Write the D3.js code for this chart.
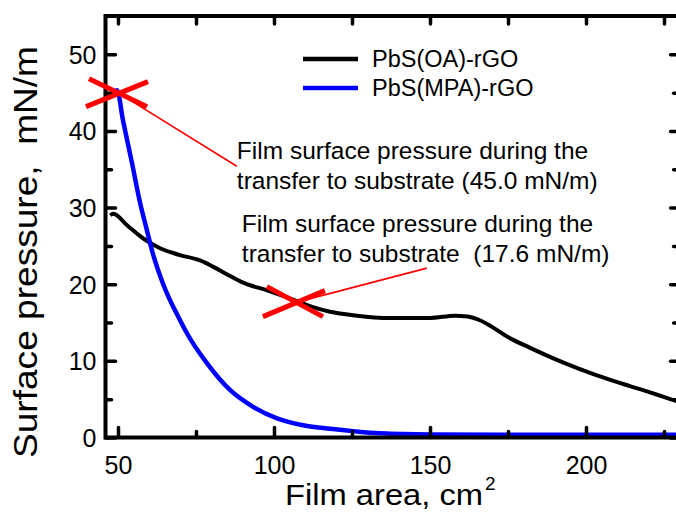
<!DOCTYPE html>
<html lang="en">
<head>
    <meta charset="UTF-8">
    <script src="https://cdn.jsdelivr.net/npm/d3@7"></script>
    <style>
        body{ margin:0; background:#fff; }
        text{ font-family:"Liberation Sans", Arial, sans-serif; fill:#000; }
    </style>
    <title>Isotherms</title>
</head>
<body>
    <svg width="676" height="512"></svg>
    <script>
        // data: film area (cm2) vs surface pressure (mN/m)
        var oaArea  = [47.5, 48.5, 52.9, 58.0, 63.5, 69.9, 76.3, 80.4, 84.9, 90.1, 97.8, 106.1, 112.5, 118.0, 126.6, 134.9, 150.0, 158.0, 162.0, 166.0, 170.0, 175.0, 182.1, 192.6, 203.5, 214.1, 220.5, 230.0];
        var oaPress = [29.0, 29.2, 27.7, 26.0, 24.7, 23.8, 23.1, 22.3, 21.3, 20.2, 19.2, 18.0, 17.0, 16.4, 15.9, 15.6, 15.6, 15.9, 15.8, 15.3, 14.4, 13.1, 11.7, 9.8, 8.1, 6.7, 5.9, 4.6];
        var mpaArea  = [46.5, 48.1, 49.7, 51.6, 54.5, 57.1, 59.3, 60.9, 64.4, 69.9, 72.1, 78.5, 85.9, 93.3, 101.0, 109.3, 118.9, 126.0, 134.0, 150.0, 190.0, 230.0];
        var mpaPress = [44.4, 45.0, 45.3, 41.4, 35.8, 30.6, 27.0, 24.4, 20.1, 15.3, 13.6, 9.7, 6.2, 4.0, 2.5, 1.6, 1.1, 0.8, 0.55, 0.4, 0.35, 0.35];
        var seriesNames = ["PbS(OA)-rGO", "PbS(MPA)-rGO"];
        var seriesColors = ["#000000", "#0000ff"];
        var xMajor = [50, 100, 150, 200];
        var xMinor = [75, 125, 175, 225];
        var yMajor = [0, 10, 20, 30, 40, 50];
        var yMinor = [5, 15, 25, 35, 45];
        // transfer points marked with red crosses
        var markArea  = [50.0, 106.7];
        var markPress = [45.0, 17.6];
        var noteLines = [
            ["Film surface pressure during the", "transfer to substrate (45.0 mN/m)"],
            ["Film surface pressure during the", "transfer to substrate  (17.6 mN/m)"]
        ];

        var svg = d3.select("svg");
        var pl = 105.5, pr = 679.6, pt = 16, pb = 437.5; // plot box

        var x = d3.scaleLinear().domain([46, 230]).range([pl, pr]);
        var y = d3.scaleLinear().domain([0, 55]).range([pb, pt]);

        svg.append("clipPath").attr("id", "plot")
            .append("rect").attr("x", pl).attr("y", pt)
            .attr("width", pr - pl).attr("height", pb - pt);

        // curves
        var line = d3.line()
            .x(function(d){ return x(d[0]); })
            .y(function(d){ return y(d[1]); })
            .curve(d3.curveMonotoneX);
        var oa = oaArea.map(function(a, i){ return [a, oaPress[i]]; });
        var mpa = mpaArea.map(function(a, i){ return [a, mpaPress[i]]; });
        var g = svg.append("g").attr("clip-path", "url(#plot)");
        g.append("path").datum(oa).attr("d", line)
            .attr("fill", "none").attr("stroke", seriesColors[0])
            .attr("stroke-width", 4).attr("stroke-linejoin", "round");
        g.append("path").datum(mpa).attr("d", line)
            .attr("fill", "none").attr("stroke", seriesColors[1])
            .attr("stroke-width", 4.5).attr("stroke-linejoin", "round");

        // axes, ticks pointing inward on all four sides
        function ax(axis, tr){
            var a = svg.append("g").attr("transform", tr).call(axis);
            a.select(".domain").remove();
            a.selectAll("line").attr("stroke", "#000").attr("stroke-width", 3.5)
                .attr("stroke-linecap", "round");
            return a;
        }
        var bx = ax(d3.axisBottom(x).tickValues(xMajor).tickSize(-10).tickPadding(18),
            "translate(0," + pb + ")");
        bx.selectAll("text").attr("font-size", 25).attr("dy", "0.72em");
        ax(d3.axisBottom(x).tickValues(xMinor).tickSize(-6).tickFormat(""), "translate(0," + pb + ")");
        ax(d3.axisTop(x).tickValues(xMajor.concat(xMinor)).tickSize(-8).tickFormat(""), "translate(0," + pt + ")");

        var ly = ax(d3.axisLeft(y).tickValues(yMajor).tickSize(-10).tickPadding(9),
            "translate(" + pl + ",0)");
        ly.selectAll("text").attr("font-size", 25).attr("dy", "0.36em");
        ax(d3.axisLeft(y).tickValues(yMinor).tickSize(-6).tickFormat(""), "translate(" + pl + ",0)");
        ax(d3.axisRight(y).tickValues(yMajor).tickSize(-9).tickFormat(""), "translate(" + pr + ",0)");
        ax(d3.axisRight(y).tickValues(yMinor).tickSize(-6).tickFormat(""), "translate(" + pr + ",0)");

        svg.append("rect").attr("x", pl).attr("y", pt)
            .attr("width", pr - pl).attr("height", pb - pt)
            .attr("fill", "none").attr("stroke", "#000").attr("stroke-width", 4);

        // red crosses and pointer lines
        var tips = [[88.1, 35.4], [149.0, 22.1]];
        markArea.forEach(function(a, i){
            var cx = x(a), cy = y(markPress[i]);
            svg.append("line").attr("x1", cx).attr("y1", cy)
                .attr("x2", x(tips[i][0])).attr("y2", y(tips[i][1]))
                .attr("stroke", "#ff0000").attr("stroke-width", 1.6);
            var arms = i === 0 ? [[-29, -14, 29, 14], [-32, 14, 30, -11]]
                               : [[-32, 14, 30, -12], [-28, -16, 28, 14]];
            arms.forEach(function(s){
                svg.append("line")
                    .attr("x1", cx + s[0]).attr("y1", cy + s[1])
                    .attr("x2", cx + s[2]).attr("y2", cy + s[3])
                    .attr("stroke", "#ff0000").attr("stroke-width", 5);
            });
        });

        // annotation texts
        var notePos = [[88.1, 36.4], [89.7, 26.8]];
        noteLines.forEach(function(ls, i){
            ls.forEach(function(t, j){
                svg.append("text")
                    .attr("x", x(notePos[i][0]))
                    .attr("y", y(notePos[i][1]) + j * 30)
                    .attr("font-size", 24.5)
                    .style("white-space", "pre")
                    .text(t);
            });
        });

        // legend
        seriesNames.forEach(function(n, i){
            var ly0 = 59 + i * 29;
            svg.append("line").attr("x1", 303).attr("x2", 358)
                .attr("y1", ly0).attr("y2", ly0)
                .attr("stroke", seriesColors[i]).attr("stroke-width", 4.5);
            svg.append("text").attr("x", 372).attr("y", ly0 + 8)
                .attr("font-size", 23.5).text(n);
        });

        // axis titles
        svg.append("text")
            .attr("transform", "translate(37," + 252 + ") rotate(-90)")
            .attr("text-anchor", "middle")
            .attr("font-size", 34)
            .attr("textLength", 412).attr("lengthAdjust", "spacingAndGlyphs")
            .style("white-space", "pre")
            .text("Surface pressure,  mN/m");
        svg.append("text").attr("x", 285).attr("y", 505)
            .attr("font-size", 30)
            .attr("textLength", 198).attr("lengthAdjust", "spacingAndGlyphs")
            .text("Film area, cm");
        svg.append("text").attr("x", 485).attr("y", 490)
            .attr("font-size", 19).text("2");
    </script>
</body>
</html>
